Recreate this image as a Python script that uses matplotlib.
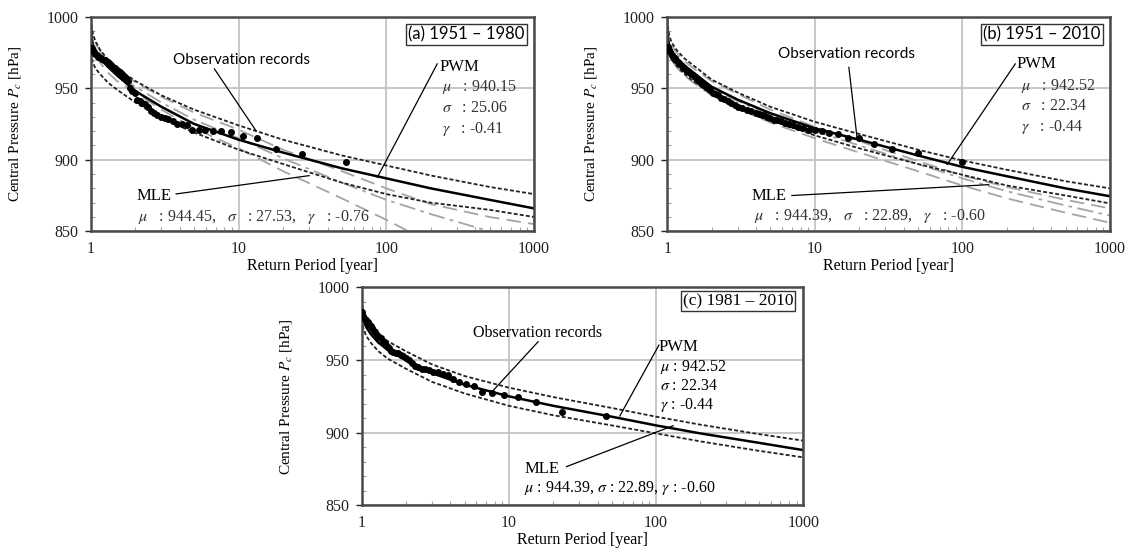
import matplotlib
matplotlib.use("Agg")
import matplotlib.pyplot as plt
from matplotlib.ticker import FixedLocator, NullFormatter, LogLocator

plt.rcParams['mathtext.fontset'] = 'stix'
plt.rcParams['font.family'] = ['Liberation Serif', 'DejaVu Serif']

# ---------------- data ----------------
T_grid = [1.003, 1.01, 1.03, 1.07, 1.15, 1.3, 1.5, 2, 3, 5, 10, 20, 50, 100, 200, 500, 1000]

# (a) 1951-1980
a_pwm = [990, 985, 980, 976, 971, 965, 959, 948, 937, 925, 914, 905, 894, 887, 880, 872, 866]
a_pwm_up = [999, 994, 988, 983, 977, 970, 964, 955, 945, 935, 924, 914, 903, 896, 889, 881, 876]
a_pwm_lo = [975, 971, 968, 964, 960, 954, 949, 940, 929, 919, 907, 897, 884, 876, 870, 865, 860]
a_mle_up = [997, 992, 987, 982, 976, 969, 963, 954, 944, 933, 921, 907, 892, 880, 869, 860, 855]
a_mle = [993, 988, 983, 978, 972, 966, 959, 951, 940, 928, 915, 901, 884, 872, 862, 850, 842]
a_mle_lo = [988, 983, 978, 973, 968, 961, 955, 947, 935, 922, 908, 892, 873, 858, 842, 825, 812]

a_obs_T = [53.5, 26.75, 17.83, 13.38, 10.7, 8.92, 7.64, 6.69, 5.94, 5.35, 4.86, 4.46, 4.12, 3.82,
           3.57, 3.34, 3.15, 2.97, 2.82, 2.68, 2.55, 2.43, 2.33, 2.23, 2.14, 2.06, 1.98, 1.91, 1.84,
           1.78, 1.73, 1.67, 1.62, 1.57, 1.53, 1.49, 1.45, 1.41, 1.37, 1.34, 1.30, 1.27, 1.24, 1.22,
           1.19, 1.16, 1.14, 1.11, 1.09, 1.07, 1.05, 1.03, 1.01]
a_obs_P = [898.5, 904, 907.5, 915, 916.5, 919.5, 920, 920, 920.5, 920.5, 921, 924, 925, 925,
           927, 928.5, 929.5, 930, 931, 933, 934, 937, 939, 940, 941, 942, 947, 948, 950,
           955, 957, 958, 960, 961, 962, 963, 964, 965, 966, 967, 968, 969, 969.5, 970,
           970.5, 971, 971.5, 972, 973, 974, 975, 976, 978]

# (b) 1951-2010
b_pwm = [990, 985, 980, 976, 971, 966, 961, 951, 942, 932.5, 922, 914, 903, 895, 888.5, 880, 874.5]
b_pwm_up = [998, 993, 987, 982, 977, 971, 966, 956, 947, 937, 926.5, 918, 907, 899.5, 893, 885, 880]
b_pwm_lo = [982, 978, 974, 970, 966, 960, 955, 946, 937, 928, 917, 908, 897, 889.5, 882, 875, 869.5]
b_mle_up = [995, 990, 985, 980, 975, 969, 964, 955, 946, 935, 923, 913, 899, 889, 881, 872, 866]
b_mle = [989, 984, 979, 975, 970, 964, 959, 950, 941, 931, 920, 910, 897, 887, 878, 868, 861]
b_mle_lo = [984, 979, 974, 970, 965, 959, 954, 945, 936, 926, 915, 905, 892, 882, 873, 863, 856]

b_obs_T = [100, 50, 33.3, 25, 20, 16.7, 14.3, 12.5, 11.1, 10, 9.09, 8.33, 7.69, 7.14, 6.67, 6.25,
           5.88, 5.56, 5.26, 5.0, 4.76, 4.55, 4.35, 4.17, 4.0, 3.70, 3.45, 3.23, 3.03, 2.86, 2.70,
           2.56, 2.44, 2.33, 2.22, 2.13, 2.04, 1.96, 1.89, 1.82, 1.75, 1.69, 1.64, 1.59, 1.54, 1.49,
           1.45, 1.41, 1.37, 1.33, 1.30, 1.27, 1.23, 1.20, 1.18, 1.15, 1.12, 1.10, 1.08, 1.05, 1.03, 1.01]
b_obs_P = [898.5, 905, 907.5, 911, 915, 915.5, 918, 919, 920, 920.5, 921, 922, 923, 924, 925, 926,
           927, 927.5, 928, 929, 930, 931, 931.5, 932, 932.5, 934, 935, 936, 937, 938.5, 940,
           941, 942.5, 943.5, 945, 946, 947, 948.5, 950, 951, 952.5, 954, 955, 956.5, 958, 959,
           960, 961, 962, 963, 964, 965, 966.5, 967.5, 968.5, 970, 971, 972, 973.5, 975, 977, 979]

# (c) 1981-2010
c_pwm = [985, 981, 977, 973, 968, 962, 957, 950, 941, 933, 925, 918.5, 911, 905, 899.5, 893, 888]
c_pwm_up = [992, 987, 983, 979, 974, 968, 963, 956, 947, 939, 931, 924.5, 917, 911, 905.5, 899, 894.5]
c_pwm_lo = [978, 975, 971, 967, 962, 956, 951, 944, 935, 927, 918.5, 912, 905, 899.5, 894, 887.5, 883]

c_obs_T = [46, 23, 15.3, 11.5, 9.2, 7.67, 6.57, 5.75, 5.11, 4.6, 4.18, 3.83, 3.54, 3.29, 3.07, 2.88,
           2.71, 2.56, 2.42, 2.3, 2.19, 2.09, 2.0, 1.92, 1.84, 1.77, 1.70, 1.64, 1.59, 1.53, 1.48,
           1.44, 1.39, 1.35, 1.31, 1.28, 1.24, 1.21, 1.18, 1.15, 1.12, 1.10, 1.07, 1.05, 1.02, 1.0]
c_obs_P = [911.5, 914, 921, 924.5, 926, 927, 928, 932, 933.5, 935, 937, 939.5, 940.5, 941.5, 942, 943,
           943.5, 944, 945, 946, 948, 950, 951.5, 952.5, 953.5, 954.5, 955, 955.5, 956.5, 958, 960,
           962, 963, 965, 966, 967, 969, 970, 972, 973.5, 975, 976, 977.5, 978.5, 980, 983]

x_ticks = [1, 10, 100, 1000]
y_ticks = [850, 900, 950, 1000]

SANS = ['Lato', 'DejaVu Sans']
SERIF = ['Liberation Serif', 'DejaVu Serif']
FS = 11.5      # serif annotation size
PCOL = '#333333'

fig = plt.figure(figsize=(11.36, 5.49), dpi=100)
axA = fig.add_axes([0.0801, 0.5787, 0.3900, 0.3909])
axB = fig.add_axes([0.5874, 0.5787, 0.3897, 0.3909])
axC = fig.add_axes([0.3184, 0.0796, 0.3887, 0.3969])


def style(ax):
    ax.set_xscale('log')
    ax.set_xlim(1, 1000)
    ax.set_ylim(850, 1000)
    ax.xaxis.set_major_locator(FixedLocator(x_ticks))
    ax.set_xticklabels([str(t) for t in x_ticks])
    ax.xaxis.set_minor_locator(LogLocator(base=10, subs=[2, 3, 4, 5, 6, 7, 8, 9]))
    ax.xaxis.set_minor_formatter(NullFormatter())
    ax.yaxis.set_major_locator(FixedLocator(y_ticks))
    ax.yaxis.set_minor_locator(FixedLocator(list(range(850, 1001, 10))))
    ax.grid(True, which='major', color='#c4c4c4', lw=1.3)
    ax.set_axisbelow(True)
    for s in ax.spines.values():
        s.set_color('#4a4a4a')
        s.set_linewidth(1.8)
    ax.tick_params(axis='both', which='major', labelsize=11.5, colors='#222222', length=4,
                   width=1, direction='out', pad=5)
    ax.tick_params(axis='x', which='major', length=0, pad=7)
    ax.tick_params(axis='both', which='minor', length=3, width=0.8, color='#a0a0a0', direction='in')
    for lab in ax.get_xticklabels() + ax.get_yticklabels():
        lab.set_family(SERIF)
    ax.set_xlabel('Return Period [year]', fontsize=11.5, family=SERIF, labelpad=1)
    ax.set_ylabel('Central Pressure $P_c$ [hPa]', fontsize=11, family=SERIF, labelpad=17)


def curves(ax, pwm, up, lo, mle=None, mle_up=None, mle_lo=None):
    if mle is not None:
        ax.plot(T_grid, mle_up, color='#a4a4a4', lw=1.3, dashes=(8, 4))
        ax.plot(T_grid, mle, color='#a4a4a4', lw=1.3, dashes=(9, 3, 2, 3))
        ax.plot(T_grid, mle_lo, color='#a4a4a4', lw=1.3, dashes=(8, 4))
    ax.plot(T_grid, up, color='#222222', lw=1.3, dashes=(2.2, 1.2))
    ax.plot(T_grid, lo, color='#222222', lw=1.3, dashes=(2.2, 1.2))
    ax.plot(T_grid, pwm, color='black', lw=1.8)


def box(ax, text, fam, fs):
    ax.text(0.979, 0.955, text, transform=ax.transAxes, ha='right', va='top', fontsize=fs,
            family=fam, bbox=dict(boxstyle='square,pad=0.15', fc='white', ec='#333333', lw=1.0))


# ---- (a) ----
style(axA)
curves(axA, a_pwm, a_pwm_up, a_pwm_lo, a_mle, a_mle_up, a_mle_lo)
axA.plot(a_obs_T, a_obs_P, 'o', color='black', ms=4, zorder=5)
axA.text(10.5, 970, 'Observation records', ha='center', va='center', fontsize=11, family=SANS)
axA.plot([6.85, 13.1], [963.5, 920.3], color='black', lw=0.9)
axA.text(228, 965, 'PWM', ha='left', va='center', fontsize=12, family=SERIF)
axA.plot([221, 87], [967, 887.8], color='black', lw=0.9)
axA.text(239, 950.7, r'$\mu$   : 940.15', ha='left', va='center', fontsize=FS, family=SERIF, color=PCOL)
axA.text(239, 936.2, r'$\sigma$   : 25.06', ha='left', va='center', fontsize=FS, family=SERIF, color=PCOL)
axA.text(239, 921.5, r'$\gamma$   : -0.41', ha='left', va='center', fontsize=FS, family=SERIF, color=PCOL)
axA.text(2.02, 875, 'MLE', ha='left', va='center', fontsize=12, family=SERIF)
axA.plot([3.77, 30], [876.1, 888.9], color='black', lw=0.9)
axA.text(2.08, 859.8, r'$\mu$   : 944.45,   $\sigma$   : 27.53,   $\gamma$   : -0.76',
         ha='left', va='center', fontsize=FS, family=SERIF, color=PCOL)
box(axA, '(a) 1951 – 1980', SANS, 12)

# ---- (b) ----
style(axB)
curves(axB, b_pwm, b_pwm_up, b_pwm_lo, b_mle, b_mle_up, b_mle_lo)
axB.plot(b_obs_T, b_obs_P, 'o', color='black', ms=4, zorder=5)
axB.text(16.5, 973.9, 'Observation records', ha='center', va='center', fontsize=11, family=SANS)
axB.plot([17, 19.3], [964.6, 915.7], color='black', lw=0.9)
axB.text(234, 967, 'PWM', ha='left', va='center', fontsize=12, family=SERIF)
axB.plot([228, 78.7], [967, 896.6], color='black', lw=0.9)
axB.text(250, 951.8, r'$\mu$   : 942.52', ha='left', va='center', fontsize=FS, family=SERIF, color=PCOL)
axB.text(250, 937.8, r'$\sigma$   : 22.34', ha='left', va='center', fontsize=FS, family=SERIF, color=PCOL)
axB.text(250, 923.1, r'$\gamma$   : -0.44', ha='left', va='center', fontsize=FS, family=SERIF, color=PCOL)
axB.text(3.7, 875, 'MLE', ha='left', va='center', fontsize=12, family=SERIF)
axB.plot([7.0, 150.6], [875, 882.6], color='black', lw=0.9)
axB.text(3.87, 860.5, r'$\mu$   : 944.39,   $\sigma$   : 22.89,   $\gamma$   : -0.60',
         ha='left', va='center', fontsize=FS, family=SERIF, color=PCOL)
box(axB, '(b) 1951 – 2010', SANS, 12)

# ---- (c) ----
style(axC)
curves(axC, c_pwm, c_pwm_up, c_pwm_lo)
axC.plot(c_obs_T, c_obs_P, 'o', color='black', ms=4, zorder=5)
axC.text(15.7, 968.8, 'Observation records', ha='center', va='center', fontsize=11.5, family=SERIF)
axC.plot([15.8, 7.43], [962.6, 926.6], color='black', lw=0.9)
axC.text(104, 958.7, 'PWM', ha='left', va='center', fontsize=12, family=SERIF)
axC.plot([104.6, 56.7], [960.3, 911.5], color='black', lw=0.9)
axC.text(106, 945.4, r'$\mu$ : 942.52', ha='left', va='center', fontsize=FS, family=SERIF)
axC.text(106, 932.3, r'$\sigma$ : 22.34', ha='left', va='center', fontsize=FS, family=SERIF)
axC.text(106, 919.0, r'$\gamma$ : -0.44', ha='left', va='center', fontsize=FS, family=SERIF)
axC.text(12.8, 874.8, 'MLE', ha='left', va='center', fontsize=12, family=SERIF)
axC.plot([24.6, 130.6], [876.6, 904.8], color='black', lw=0.9)
axC.text(12.6, 861.7, r'$\mu$ : 944.39, $\sigma$ : 22.89, $\gamma$ : -0.60',
         ha='left', va='center', fontsize=FS, family=SERIF)
axC.text(0.977, 0.973, '(c) 1981 – 2010', transform=axC.transAxes, ha='right', va='top', fontsize=12.5,
         family=SERIF, bbox=dict(boxstyle='square,pad=0.12', fc='white', ec='#333333', lw=1.0))

fig.savefig('out.png', dpi=100)
